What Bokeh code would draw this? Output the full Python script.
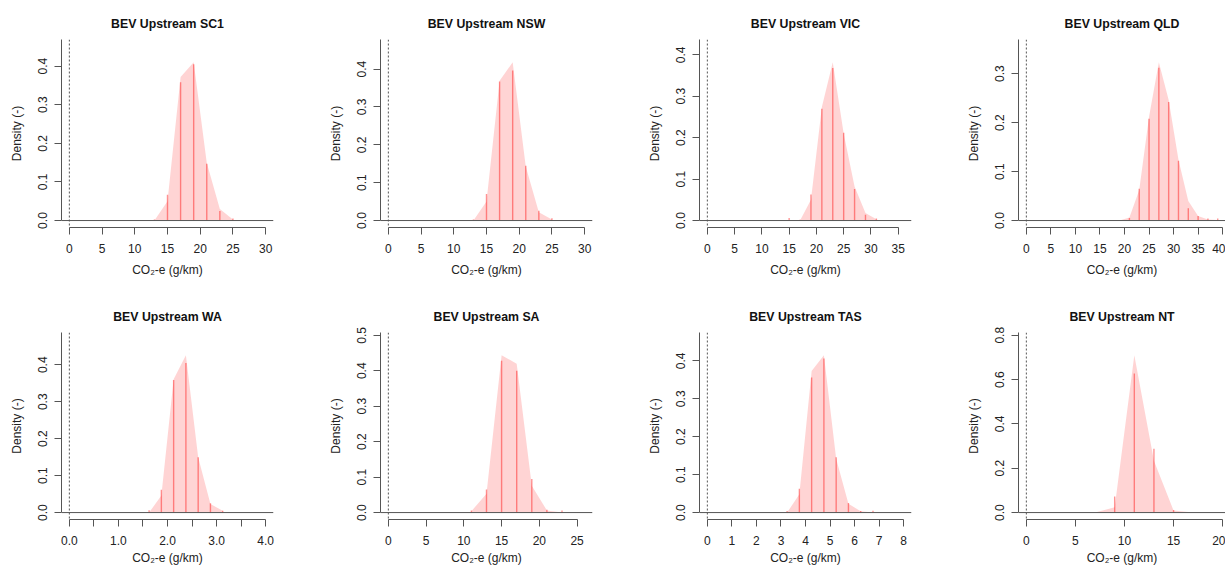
from bokeh.plotting import figure
from bokeh.layouts import column, row
from bokeh.models import FixedTicker, Span, Range1d
from bokeh.embed import file_html
from bokeh.resources import INLINE

FONT = "Liberation Sans"
TXT = "#222222"
AX = "#555555"

titles = ["BEV Upstream SC1", "BEV Upstream NSW", "BEV Upstream VIC", "BEV Upstream QLD",
          "BEV Upstream WA", "BEV Upstream SA", "BEV Upstream TAS", "BEV Upstream NT"]

# bin mid-points, histogram heights (vertical lines), density polygon heights
sc1_mids = [13, 15, 17, 19, 21, 23, 25]
sc1_hist = [0.003, 0.067, 0.358, 0.405, 0.147, 0.025, 0.005]
sc1_dens = [0.0, 0.05, 0.372, 0.41, 0.15, 0.03, 0.003]

nsw_mids = [13, 15, 17, 19, 21, 23, 25]
nsw_hist = [0.003, 0.07, 0.367, 0.396, 0.145, 0.026, 0.006]
nsw_dens = [0.0, 0.05, 0.369, 0.418, 0.143, 0.022, 0.003]

vic_mids = [15, 17, 19, 21, 23, 25, 27, 29, 31]
vic_hist = [0.006, 0.002, 0.063, 0.27, 0.368, 0.212, 0.076, 0.014, 0.005]
vic_dens = [0.0, 0.0, 0.05, 0.274, 0.382, 0.21, 0.082, 0.018, 0.003]

qld_mids = [19, 21, 23, 25, 27, 29, 31, 33, 35, 37, 39]
qld_hist = [0.0, 0.005, 0.065, 0.208, 0.312, 0.242, 0.122, 0.025, 0.0095, 0.004, 0.004]
qld_dens = [0.0, 0.006, 0.0625, 0.212, 0.323, 0.246, 0.124, 0.04, 0.0095, 0.002, 0.001]

wa_mids = [1.625, 1.875, 2.125, 2.375, 2.625, 2.875, 3.125]
wa_hist = [0.006, 0.062, 0.359, 0.405, 0.15, 0.025, 0.005]
wa_dens = [0.0, 0.046, 0.361, 0.426, 0.15, 0.023, 0.005]

sa_mids = [11, 13, 15, 17, 19, 21, 23]
sa_hist = [0.006, 0.065, 0.428, 0.40, 0.095, 0.008, 0.006]
sa_dens = [0.004, 0.053, 0.444, 0.42, 0.076, 0.006, 0.0]

tas_mids = [3.25, 3.75, 4.25, 4.75, 5.25, 5.75, 6.25, 6.75]
tas_hist = [0.004, 0.0626, 0.356, 0.406, 0.146, 0.025, 0.004, 0.005]
tas_dens = [0.0, 0.048, 0.373, 0.415, 0.142, 0.023, 0.0035, 0.0]

nt_mids = [7, 9, 11, 13, 15, 17]
nt_hist = [0.0, 0.072, 0.627, 0.288, 0.012, 0.0]
nt_dens = [0.0, 0.024, 0.71, 0.234, 0.009, 0.0]

# x-axis limits and ticks
xlim_max = [30, 30, 36, 40, 4, 26, 8, 20]
xticks = [
    [0, 5, 10, 15, 20, 25, 30],
    [0, 5, 10, 15, 20, 25, 30],
    [0, 5, 10, 15, 20, 25, 30, 35],
    [0, 5, 10, 15, 20, 25, 30, 35, 40],
    [0, 0.5, 1.0, 1.5, 2.0, 2.5, 3.0, 3.5, 4.0],
    [0, 5, 10, 15, 20, 25],
    [0, 1, 2, 3, 4, 5, 6, 7, 8],
    [0, 5, 10, 15, 20],
]
xtick_labels = [
    ["0", "5", "10", "15", "20", "25", "30"],
    ["0", "5", "10", "15", "20", "25", "30"],
    ["0", "5", "10", "15", "20", "25", "30", "35"],
    ["0", "5", "10", "15", "20", "25", "30", "35", "40"],
    ["0.0", "", "1.0", "", "2.0", "", "3.0", "", "4.0"],
    ["0", "5", "10", "15", "20", "25"],
    ["0", "1", "2", "3", "4", "5", "6", "7", "8"],
    ["0", "5", "10", "15", "20"],
]
yticks = [
    [0, 0.1, 0.2, 0.3, 0.4],
    [0, 0.1, 0.2, 0.3, 0.4],
    [0, 0.1, 0.2, 0.3, 0.4],
    [0, 0.1, 0.2, 0.3],
    [0, 0.1, 0.2, 0.3, 0.4],
    [0, 0.1, 0.2, 0.3, 0.4, 0.5],
    [0, 0.1, 0.2, 0.3, 0.4],
    [0, 0.2, 0.4, 0.6, 0.8],
]
ytick_labels = [
    ["0.0", "0.1", "0.2", "0.3", "0.4"],
    ["0.0", "0.1", "0.2", "0.3", "0.4"],
    ["0.0", "0.1", "0.2", "0.3", "0.4"],
    ["0.0", "0.1", "0.2", "0.3"],
    ["0.0", "0.1", "0.2", "0.3", "0.4"],
    ["0.0", "0.1", "0.2", "0.3", "0.4", "0.5"],
    ["0.0", "0.1", "0.2", "0.3", "0.4"],
    ["0.0", "0.2", "0.4", "0.6", "0.8"],
]

panels = [
    (sc1_mids, sc1_hist, sc1_dens), (nsw_mids, nsw_hist, nsw_dens),
    (vic_mids, vic_hist, vic_dens), (qld_mids, qld_hist, qld_dens),
    (wa_mids, wa_hist, wa_dens), (sa_mids, sa_hist, sa_dens),
    (tas_mids, tas_hist, tas_dens), (nt_mids, nt_hist, nt_dens),
]

COL_W = [319, 319, 319, 268]
ROW_H = [292, 275]
ROW_TOP = [39, 40]
FRAME_W = 212
FRAME_H = 188
LEFT = 61


def make_panel(i):
    r, c = divmod(i, 4)
    mids, hist, dens = panels[i]
    m = xlim_max[i]
    xs, xe = -0.04 * m, 1.04 * m
    fw = min(FRAME_W, COL_W[c] - LEFT)
    xe_vis = xs + (xe - xs) * fw / FRAME_W
    top = 1.1 * max(max(dens), max(hist))
    ys, ye = -0.04 * top, 1.04 * top

    w = COL_W[c]
    h = ROW_H[r]
    bt = ROW_TOP[r]
    bb = h - bt - FRAME_H
    br = w - LEFT - fw

    p = figure(width=w, height=h, x_range=Range1d(xs, xe_vis), y_range=Range1d(ys, ye),
               output_backend="svg", toolbar_location=None, tools="",
               min_border_left=LEFT, min_border_right=br, min_border_top=bt,
               min_border_bottom=bb, outline_line_color=None,
               background_fill_color="white", border_fill_color="white")
    p.grid.visible = False

    p.title.text = titles[i]
    p.title.align = "center"
    p.title.text_font = FONT
    p.title.text_font_size = "12.3px"
    p.title.text_font_style = "bold"
    p.title.text_color = "#111111"
    p.title.standoff = 17
    if fw < FRAME_W:
        p.title.offset = (FRAME_W - fw) / 2.0

    # density polygon
    px = list(mids) + [mids[-1], mids[0]]
    py = list(dens) + [0, 0]
    p.patch(px, py, fill_color="#ff0000", fill_alpha=0.17, line_color=None)
    # histogram lines
    p.segment(x0=mids, y0=[0] * len(mids), x1=mids, y1=hist,
              line_color="#ff0000", line_alpha=0.42, line_width=1.4)

    p.add_layout(Span(location=0, dimension="width", line_color=AX, line_width=1))
    p.add_layout(Span(location=0, dimension="height", line_color=AX, line_width=1,
                      line_dash="2 2"))

    xa = p.xaxis[0]
    xa.ticker = FixedTicker(ticks=xticks[i])
    xa.major_label_overrides = {t: l for t, l in zip(xticks[i], xtick_labels[i])}
    xa.bounds = (xticks[i][0], xticks[i][-1])
    xa.axis_line_color = AX
    xa.major_tick_line_color = AX
    xa.minor_tick_line_color = None
    xa.major_tick_in = 0
    xa.major_tick_out = 7
    xa.major_label_standoff = 9
    xa.major_label_text_font = FONT
    xa.major_label_text_font_size = "12px"
    xa.major_label_text_color = TXT
    xa.axis_label = "CO₂-e (g/km)"
    xa.axis_label_text_font = FONT
    xa.axis_label_text_font_size = "12px"
    xa.axis_label_text_font_style = "normal"
    xa.axis_label_text_color = TXT
    xa.axis_label_standoff = 7 if r == 0 else 3

    ya = p.yaxis[0]
    ya.ticker = FixedTicker(ticks=yticks[i])
    ya.major_label_overrides = {t: l for t, l in zip(yticks[i], ytick_labels[i])}
    ya.bounds = (0, ye)
    ya.axis_line_color = AX
    ya.major_tick_line_color = AX
    ya.minor_tick_line_color = None
    ya.major_tick_in = 0
    ya.major_tick_out = 7
    ya.major_label_orientation = "vertical"
    ya.major_label_standoff = 7
    ya.major_label_text_font = FONT
    ya.major_label_text_font_size = "12px"
    ya.major_label_text_color = TXT
    ya.axis_label = "Density (-)"
    ya.axis_label_text_font = FONT
    ya.axis_label_text_font_size = "12px"
    ya.axis_label_text_font_style = "normal"
    ya.axis_label_text_color = TXT
    ya.axis_label_standoff = 12
    return p


figs = [make_panel(i) for i in range(8)]
layout = column(row(*figs[:4], spacing=0), row(*figs[4:], spacing=0), spacing=0)

open("out.html", "w").write(file_html(layout, INLINE))
